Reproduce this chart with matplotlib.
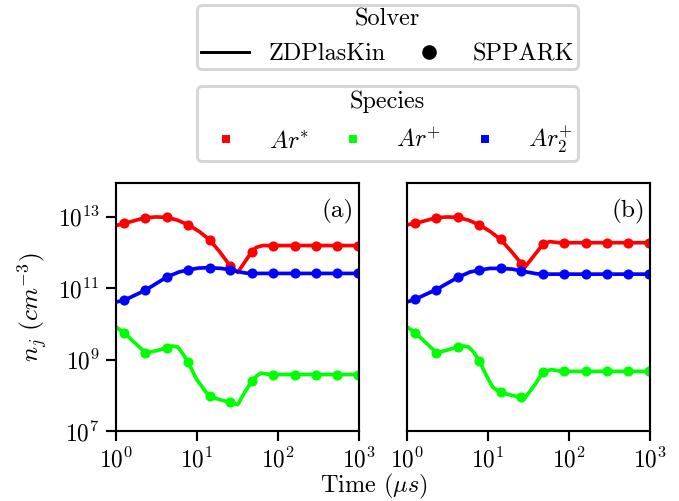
import numpy as np
import matplotlib.pyplot as plt
from matplotlib.lines import Line2D

plt.rcParams.update({
    'font.family': 'serif',
    'font.serif': ['cmr10'],
    'mathtext.fontset': 'cm',
    'axes.formatter.use_mathtext': True,
    'axes.unicode_minus': False,
    'font.size': 12.5,
})

# times of the SPPARK markers (us)
t_marker = [1.27, 2.31, 4.24, 7.78, 14.3, 25.7, 47.5, 86.3, 160, 296, 532, 967]

# --- panel (a): log10 of density ---
a_red_t = [1.0, 1.27, 2.31, 3.12, 4.24, 5.75, 7.78, 10.7, 14.3, 19.0, 25.7, 31.9, 38.6, 47.5, 54, 65, 1000]
a_red = [12.75, 12.81, 12.97, 12.99, 12.98, 12.90, 12.77, 12.58, 12.35, 12.02, 11.62, 11.44, 11.72, 12.02, 12.14, 12.19, 12.19]
a_blue_t = [1.0, 1.27, 2.31, 4.24, 6.0, 7.78, 10.5, 14.3, 20, 25.7, 31.9, 40, 47.5, 1000]
a_blue = [10.61, 10.66, 10.94, 11.31, 11.45, 11.51, 11.56, 11.57, 11.55, 11.51, 11.46, 11.42, 11.41, 11.41]
a_green_t = [1.0, 1.27, 2.31, 3.2, 4.24, 5.0, 5.8, 6.68, 7.78, 9.8, 13.0, 14.3, 19.0, 25.7, 31.9, 38.6, 47.5, 55, 62, 80, 1000]
a_green = [9.91, 9.74, 9.19, 9.25, 9.33, 9.38, 9.35, 9.16, 8.93, 8.46, 8.08, 7.97, 7.88, 7.80, 7.74, 8.08, 8.39, 8.55, 8.62, 8.58, 8.58]

a_red_m = [12.81, 12.97, 12.98, 12.77, 12.35, 11.62, 12.02, 12.19, 12.19, 12.19, 12.19, 12.19]
a_blue_m = [10.66, 10.94, 11.31, 11.51, 11.57, 11.51, 11.41, 11.41, 11.41, 11.41, 11.41, 11.41]
a_green_m = [9.74, 9.19, 9.33, 8.93, 7.97, 7.80, 8.39, 8.58, 8.58, 8.58, 8.58, 8.58]

# --- panel (b) ---
b_red_t = [1.0, 1.27, 2.31, 3.12, 4.24, 5.75, 7.78, 10.7, 14.3, 19.0, 26.3, 28.4, 35, 47.8, 57.8, 75, 1000]
b_red = [12.77, 12.81, 12.97, 12.99, 12.98, 12.90, 12.77, 12.58, 12.36, 12.05, 11.66, 11.58, 11.84, 12.23, 12.30, 12.27, 12.27]
b_blue_t = [1.0, 1.27, 2.31, 4.24, 6.0, 7.78, 10.5, 14.3, 20, 25.7, 31.9, 40, 47.5, 1000]
b_blue = [10.61, 10.69, 10.96, 11.30, 11.45, 11.50, 11.55, 11.55, 11.53, 11.48, 11.44, 11.40, 11.39, 11.39]
b_green_t = [1.0, 1.27, 2.31, 3.2, 4.24, 5.0, 5.8, 6.68, 7.78, 9.55, 11.5, 14.3, 19.5, 26.3, 28.4, 38, 47.8, 60.6, 80, 1000]
b_green = [9.91, 9.75, 9.19, 9.27, 9.35, 9.38, 9.35, 9.20, 8.97, 8.55, 8.22, 8.08, 8.00, 7.94, 7.92, 8.30, 8.65, 8.72, 8.67, 8.67]

b_red_m = [12.81, 12.97, 12.98, 12.77, 12.36, 11.66, 12.23, 12.27, 12.27, 12.27, 12.27, 12.27]
b_blue_m = [10.69, 10.96, 11.30, 11.50, 11.55, 11.48, 11.39, 11.39, 11.39, 11.39, 11.39, 11.39]
b_green_m = [9.75, 9.19, 9.35, 8.97, 8.08, 7.94, 8.65, 8.67, 8.67, 8.67, 8.67, 8.67]

colors = ['red', 'lime', 'blue']
species = [r'$Ar^{*}$', r'$Ar^{+}$', r'$Ar_2^{+}$']

fig = plt.figure(figsize=(679 / 140, 501 / 140), dpi=140)
ax1 = fig.add_axes([0.1708, 0.1397, 0.358, 0.495])
ax2 = fig.add_axes([0.5994, 0.1397, 0.358, 0.495])

panels = [
    (ax1, '(a)', [(a_red_t, a_red, a_red_m), (a_green_t, a_green, a_green_m), (a_blue_t, a_blue, a_blue_m)]),
    (ax2, '(b)', [(b_red_t, b_red, b_red_m), (b_green_t, b_green, b_green_m), (b_blue_t, b_blue, b_blue_m)]),
]

for ax, tag, series in panels:
    for (lt, lv, mv), c in zip(series, colors):
        ax.plot(lt, 10.0 ** np.array(lv), '-', color=c, lw=1.9)
        ax.plot(t_marker, 10.0 ** np.array(mv), 'o', color=c, ms=4.2)
    ax.set_xscale('log')
    ax.set_yscale('log')
    ax.set_xlim(1, 1000)
    ax.set_ylim(1e7, 10 ** 13.94)
    ax.set_xticks([1, 10, 100, 1000])
    ax.set_yticks([1e7, 1e9, 1e11, 1e13])
    ax.minorticks_off()
    ax.tick_params(direction='out', length=5, width=1.1, labelsize=12)
    for s in ax.spines.values():
        s.set_linewidth(1.1)
    ax.text(0.979, 0.935, tag, transform=ax.transAxes, ha='right', va='top', fontsize=13)

ax2.tick_params(axis='y', left=False, labelleft=False)
ax1.set_ylabel(r'$n_j\ (cm^{-3})$', fontsize=13, labelpad=4)
fig.text(0.551, 0.030, r'Time ($\mu s$)', ha='center', va='center', fontsize=12.5)

solver_handles = [Line2D([], [], color='black', lw=1.5),
                  Line2D([], [], color='black', marker='o', ls='none', ms=6.5)]
leg1 = fig.legend(solver_handles, ['ZDPlasKin', 'SPPARK'], title='Solver', ncol=2,
                  loc='upper left', bbox_to_anchor=(0.290, 0.99, 0.561, 0), mode='expand',
                  borderaxespad=0, borderpad=0.15, fontsize=12.5, title_fontsize=12.5,
                  fancybox=True)
leg1.get_frame().set_linewidth(1.5)

species_handles = [Line2D([], [], color=c, marker='s', ls='none', ms=3.5) for c in colors]
leg2 = fig.legend(species_handles, species, title='Species', ncol=3,
                  loc='upper left', bbox_to_anchor=(0.290, 0.828, 0.561, 0), mode='expand',
                  borderaxespad=0, borderpad=0.18, fontsize=12.5, title_fontsize=12.5,
                  fancybox=True)
leg2.get_frame().set_linewidth(1.5)

fig.savefig('out.png', dpi=140)
